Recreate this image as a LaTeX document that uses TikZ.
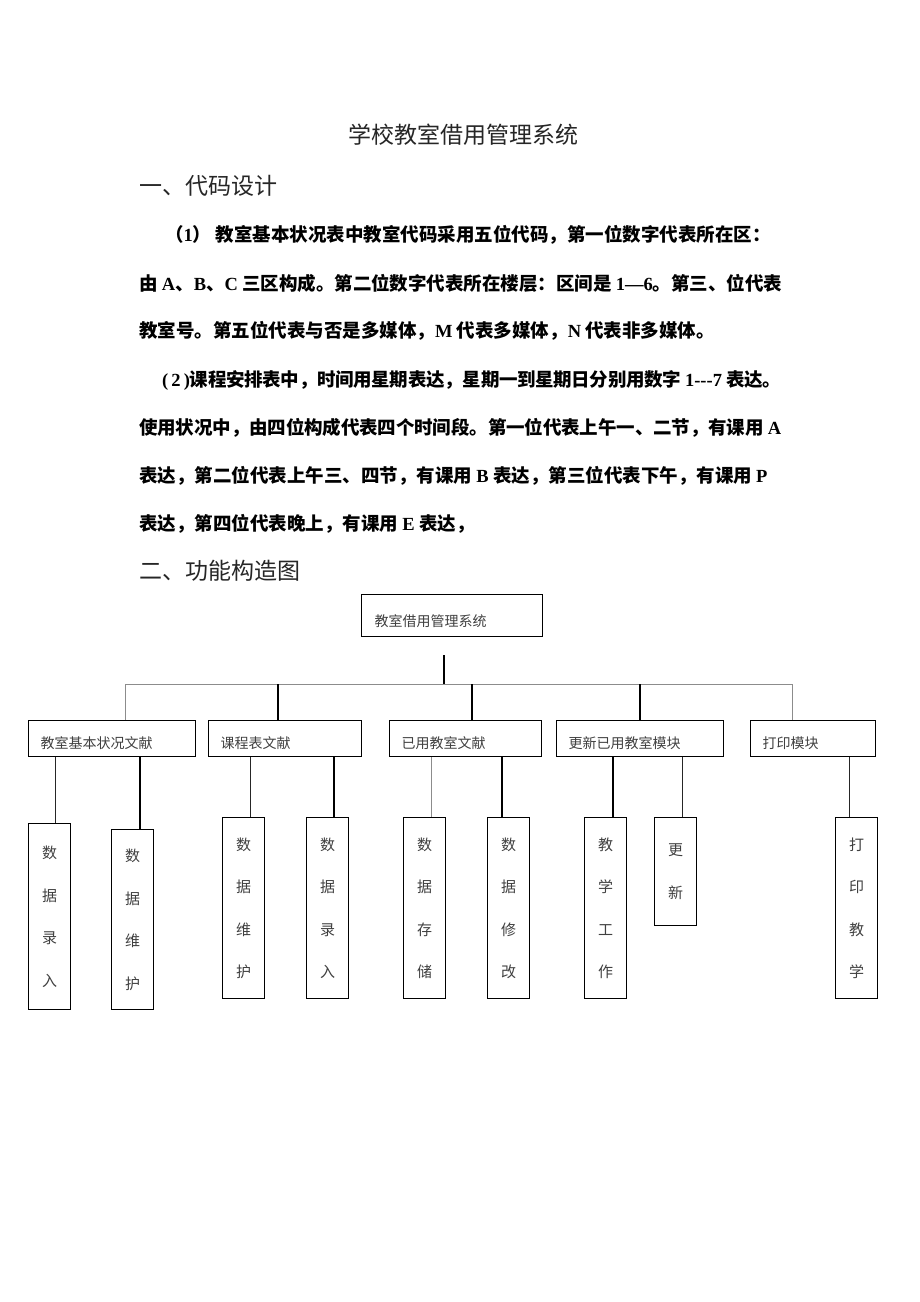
\documentclass[tikz,border=0pt]{standalone}
\usepackage{fontspec}
\setmainfont{Noto Sans CJK SC}
\newfontfamily\latfont{Liberation Serif}
\newfontfamily\boxfont{Noto Sans CJK SC}[LetterSpace=14]
\newcommand\la[1]{{\latfont #1}}
\newcommand\fullrow{\parfillskip=0pt\relax}
\XeTeXlinebreaklocale "zh"
\XeTeXlinebreakskip=0pt plus 4pt minus 2pt
\tikzset{
  heading/.style={anchor=base west, inner sep=0pt, font=\fontsize{23}{28}\selectfont, text=black!85},
  textline/.style={anchor=base west, inner sep=0pt, font=\bfseries\fontsize{18.5}{22}\selectfont},
  fullline/.style={textline, text width=#1, align=justify},
  sysbox/.style={draw, line width=1.2pt, anchor=north west, inner xsep=13pt, inner ysep=8pt,
    text height=24pt, text depth=2pt, text width=155pt, align=left,
    font=\boxfont\fontsize{14}{16}\selectfont, text=black!75},
  modbox/.style={draw, line width=1.2pt, anchor=north west, inner xsep=12pt, inner ysep=7pt,
    text height=21pt, text depth=1pt, text width=#1, align=left,
    font=\boxfont\fontsize{14}{16}\selectfont, text=black!75},
  leafbox/.style={draw, line width=1.2pt, anchor=north west, inner sep=0pt, minimum width=42pt,
    minimum height=#1, align=center, font=\boxfont\fontsize{15}{42.5}\selectfont, text=black!75},
  link/.style={line width=0.8pt, black!45},
  linkm/.style={line width=1.1pt, black!85},
  linkb/.style={line width=1.8pt, black},
}
\begin{document}
\begin{tikzpicture}[x=1pt,y=-1pt]
\useasboundingbox[fill=white] (0,0) rectangle (920,1302);

% title and text
\node[anchor=base, inner sep=0pt, font=\fontsize{23}{27}\selectfont, text=black!85] (title) at (463,143) {学校教室借用管理系统};
\node[heading] (part1) at (139,194) {一、代码设计};
\node[fullline=610pt] (row1) at (165,241) {\fullrow （\la{1}） 教室基本状况表中教室代码采用五位代码，第一位数字代表所在区：};
\node[fullline=643pt] (row2) at (139,290) {\fullrow 由 \la{A}、\la{B}、\la{C} 三区构成。第二位数字代表所在楼层：区间是 \la{1—6}。第三、位代表};
\node[textline] (row3) at (139,337) {教室号。第五位代表与否是多媒体，\la{M} 代表多媒体，\la{N} 代表非多媒体。};
\node[fullline=619pt] (row4) at (162,386) {\fullrow \la{(\,2\,)}课程安排表中，时间用星期表达，星期一到星期日分别用数字 \la{1-{}-{}-7} 表达。};
\node[fullline=642pt] (row5) at (139,434) {\fullrow 使用状况中，由四位构成代表四个时间段。第一位代表上午一、二节，有课用 \la{A}};
\node[fullline=642pt] (row6) at (139,482) {\fullrow 表达，第二位代表上午三、四节，有课用 \la{B} 表达，第三位代表下午，有课用 \la{P}};
\node[textline] (row7) at (139,530) {表达，第四位代表晚上，有课用 \la{E} 表达，};
\node[heading] (part2) at (139,579) {二、功能构造图};

% structure chart
\node[sysbox] (sys) at (361,594) {教室借用管理系统};
\node[modbox=143pt] (m1) at (28,720) {教室基本状况文献};
\node[modbox=129pt] (m2) at (208,720) {课程表文献};
\node[modbox=128pt] (m3) at (389,720) {已用教室文献};
\node[modbox=143pt] (m4) at (556,720) {更新已用教室模块};
\node[modbox=101pt] (m5) at (750,720) {打印模块};

\node[leafbox=186pt] (l1) at (28,823) {数\\据\\录\\入};
\node[leafbox=180pt] (l2) at (111,829) {数\\据\\维\\护};
\node[leafbox=181pt] (l3) at (222,817) {数\\据\\维\\护};
\node[leafbox=181pt] (l4) at (306,817) {数\\据\\录\\入};
\node[leafbox=181pt] (l5) at (403,817) {数\\据\\存\\储};
\node[leafbox=181pt] (l6) at (487,817) {数\\据\\修\\改};
\node[leafbox=181pt] (l7) at (584,817) {教\\学\\工\\作};
\node[leafbox=108pt] (l8) at (654,817) {更\\新};
\node[leafbox=181pt] (l9) at (835,817) {打\\印\\教\\学};

\coordinate (root) at (444,655);
\coordinate (bus1) at (125,684);
\coordinate (bus2) at (278,684);
\coordinate (bus3) at (472,684);
\coordinate (bus4) at (640,684);
\coordinate (bus5) at (792,684);

\draw[linkb] (root) -- (root |- bus1);
\draw[link] (bus1) -- (bus5);
\draw[link] (bus1) -- (bus1 |- m1.north);
\draw[linkb] (bus2) -- (bus2 |- m2.north);
\draw[linkb] (bus3) -- (bus3 |- m3.north);
\draw[linkb] (bus4) -- (bus4 |- m4.north);
\draw[link] (bus5) -- (bus5 |- m5.north);

\draw[linkm] ([xshift=6pt]l1.north) -- ([xshift=6pt]l1.north |- m1.south);
\draw[linkb] ([xshift=7pt]l2.north) -- ([xshift=7pt]l2.north |- m1.south);
\draw[linkm] ([xshift=7pt]l3.north) -- ([xshift=7pt]l3.north |- m2.south);
\draw[linkb] ([xshift=6pt]l4.north) -- ([xshift=6pt]l4.north |- m2.south);
\draw[link] ([xshift=7pt]l5.north) -- ([xshift=7pt]l5.north |- m3.south);
\draw[linkb] ([xshift=-7pt]l6.north) -- ([xshift=-7pt]l6.north |- m3.south);
\draw[linkb] ([xshift=7pt]l7.north) -- ([xshift=7pt]l7.north |- m4.south);
\draw[linkm] ([xshift=7pt]l8.north) -- ([xshift=7pt]l8.north |- m4.south);
\draw[linkm] ([xshift=-7pt]l9.north) -- ([xshift=-7pt]l9.north |- m5.south);
\end{tikzpicture}
\end{document}
